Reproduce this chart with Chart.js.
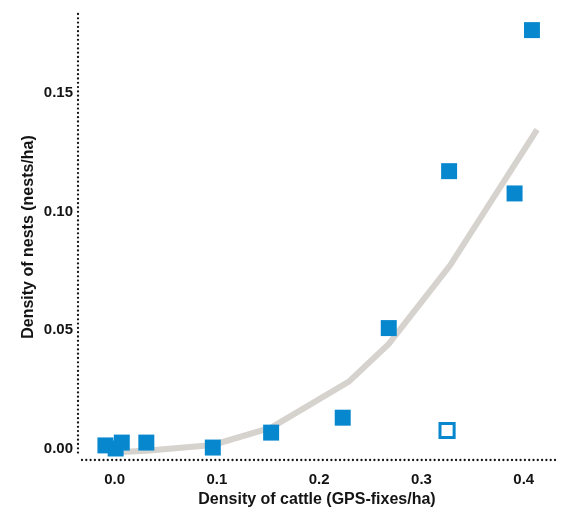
<!DOCTYPE html>
<html lang="en">
<head>
<meta charset="UTF-8">
<title>Nest density vs cattle density</title>
<script src="https://cdn.jsdelivr.net/npm/chart.js@4.4.0/dist/chart.umd.min.js"></script>
<style>
  html, body { margin: 0; padding: 0; background: #fff; }
  #wrap { width: 574px; height: 510px; }
</style>
</head>
<body>
<div id="wrap"><canvas id="chart"></canvas></div>
<script>
// observed nests (filled squares)
const cattleX = [-0.009, 0.001, 0.007, 0.031, 0.096, 0.153, 0.223, 0.268, 0.327, 0.391, 0.408];
const nestsY  = [0.0013, 0.0000, 0.0025, 0.0025, 0.0004, 0.0067, 0.0130, 0.0508, 0.1170, 0.1076, 0.1765];

// the outlier (open square)
const outlierX = [0.325];
const outlierY = [0.0076];

// fitted curve
const fitX = [0.001, 0.031, 0.096, 0.153, 0.229, 0.268, 0.328, 0.413];
const fitY = [-0.0016, -0.0009, 0.0015, 0.0088, 0.0282, 0.0441, 0.0773, 0.1345];

const xTicks = [0, 0.1, 0.2, 0.3, 0.4];
const yTicks = [0, 0.05, 0.10, 0.15];

const blue = '#0788ce';
const grey = '#d6d2ce';
const ink = '#141414';
const face = 'Liberation Sans, Arial, sans-serif';

const toPts = (xs, ys) => xs.map((x, i) => ({ x: x, y: ys[i] }));

// dotted axis lines, y axis stops short of the x axis
const dottedAxes = {
  id: 'dottedAxes',
  afterDraw(chart) {
    const ctx = chart.ctx;
    const a = chart.chartArea;
    ctx.save();
    ctx.strokeStyle = ink;
    ctx.lineWidth = 2.3;
    ctx.lineCap = 'round';
    ctx.setLineDash([0, 4.3]);
    ctx.beginPath();
    ctx.moveTo(a.left, a.top);
    ctx.lineTo(a.left, a.bottom - 7);
    ctx.stroke();
    ctx.beginPath();
    ctx.moveTo(a.left + 4, a.bottom);
    ctx.lineTo(a.right, a.bottom);
    ctx.stroke();
    ctx.restore();
  }
};

new Chart(document.getElementById('chart'), {
  type: 'scatter',
  data: {
    datasets: [
      {
        type: 'line',
        data: toPts(fitX, fitY),
        borderColor: grey,
        borderWidth: 6,
        pointRadius: 0,
        tension: 0,
        fill: false,
        order: 3
      },
      {
        data: toPts(outlierX, outlierY),
        pointStyle: 'rect',
        pointRadius: 10,
        pointBorderWidth: 3,
        pointBorderColor: blue,
        pointBackgroundColor: '#fff',
        order: 2
      },
      {
        data: toPts(cattleX, nestsY),
        pointStyle: 'rect',
        pointRadius: 11.3,
        pointBorderWidth: 0,
        pointBackgroundColor: blue,
        order: 1
      }
    ]
  },
  options: {
    responsive: true,
    maintainAspectRatio: false,
    animation: false,
    layout: { padding: { top: 14, right: 18, left: 0, bottom: 0 } },
    plugins: {
      legend: { display: false },
      tooltip: { enabled: false }
    },
    scales: {
      x: {
        type: 'linear',
        min: -0.0358,
        max: 0.4315,
        grid: { display: false, drawTicks: false },
        border: { display: false },
        afterBuildTicks: s => { s.ticks = xTicks.map(v => ({ value: v })); },
        afterFit: s => { s.height = 50; },
        ticks: {
          padding: 11,
          color: ink,
          font: { family: face, size: 15, weight: 'bold' },
          callback: v => v.toFixed(1)
        },
        title: {
          display: true,
          text: 'Density of cattle (GPS-fixes/ha)',
          color: ink,
          padding: { top: 0, bottom: 1 },
          font: { family: face, size: 16, weight: 'bold' }
        }
      },
      y: {
        type: 'linear',
        min: -0.00485,
        max: 0.1833,
        grid: { display: false, drawTicks: false },
        border: { display: false },
        afterBuildTicks: s => { s.ticks = yTicks.map(v => ({ value: v })); },
        afterFit: s => { s.width = 78; },
        ticks: {
          padding: 5,
          color: ink,
          font: { family: face, size: 15, weight: 'bold' },
          callback: v => v.toFixed(2)
        },
        title: {
          display: true,
          text: 'Density of nests (nests/ha)',
          color: ink,
          padding: { top: 19, bottom: 0 },
          font: { family: face, size: 16, weight: 'bold' }
        }
      }
    }
  },
  plugins: [dottedAxes]
});
</script>
</body>
</html>
